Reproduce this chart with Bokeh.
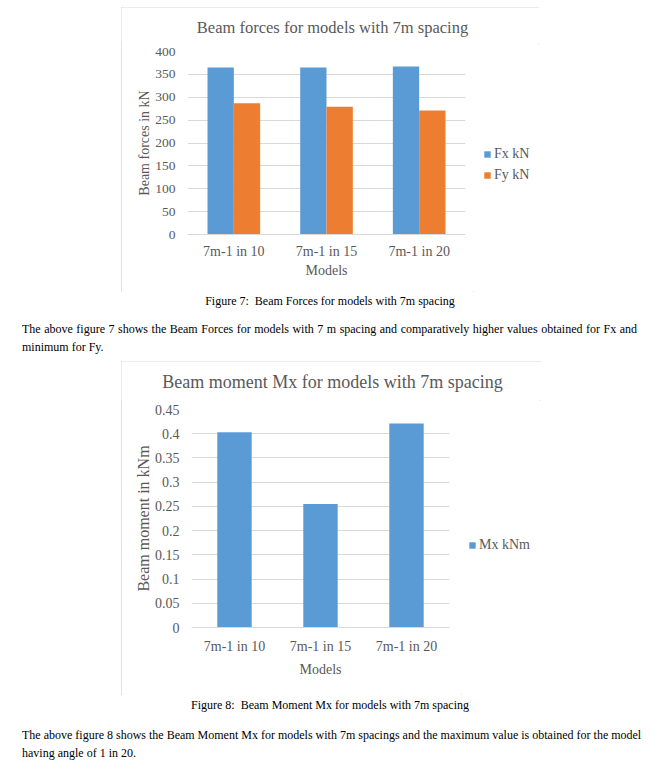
from bokeh.plotting import figure
from bokeh.models import (FactorRange, Range1d, FixedTicker, Legend, LegendItem, Label,
                          Div, Spacer, ColumnDataSource)
from bokeh.layouts import column, row
from bokeh.transform import dodge
from bokeh.embed import file_html
from bokeh.resources import INLINE

# ---------------- data ----------------
models = ["7m-1 in 10", "7m-1 in 15", "7m-1 in 20"]
fx_kn = [365, 365, 367]
fy_kn = [287, 279, 271]
force_ticks = [0, 50, 100, 150, 200, 250, 300, 350, 400]

mx_knm = [0.403, 0.255, 0.421]
moment_ticks = [0, 0.05, 0.1, 0.15, 0.2, 0.25, 0.3, 0.35, 0.4, 0.45]
moment_tick_labels = ["0", "0.05", "0.1", "0.15", "0.2", "0.25", "0.3", "0.35", "0.4", "0.45"]

title1 = "Beam forces for models with 7m spacing"
title2 = "Beam moment Mx for models with 7m spacing"
caption1 = "Figure 7:  Beam Forces for models with 7m spacing"
caption2 = "Figure 8:  Beam Moment Mx for models with 7m spacing"
para1 = ["The above figure 7 shows the Beam Forces for models with 7 m spacing and comparatively higher values obtained for Fx and",
         "minimum for Fy."]
para2 = ["The above figure 8 shows the Beam Moment Mx for models with 7m spacings and the maximum value is obtained for the model",
         "having angle of 1 in 20."]

# ---------------- style ----------------
GRAY = "#595959"
GRID = "#d9d9d9"
BLUE = "#5b9bd5"
ORANGE = "#ed7d31"
FONT = "Liberation Serif"
BOX = {"outline": "1px solid #d9d9d9", "outline-offset": "-1px"}
Z = (0, 0, 0, 0)


def blank_fig(width, height, x_range=None, y_range=None):
    f = figure(width=width, height=height,
               x_range=x_range if x_range is not None else Range1d(0, 1),
               y_range=y_range if y_range is not None else Range1d(0, 1),
               output_backend="svg", toolbar_location=None, tools="",
               x_axis_location=None, y_axis_location=None,
               min_border=0, min_border_left=0, min_border_right=0,
               min_border_top=0, min_border_bottom=0)
    f.grid.visible = False
    f.outline_line_color = None
    f.background_fill_color = "white"
    f.border_fill_color = "white"
    return f


def title_fig(width, height, text, size, x, y):
    f = blank_fig(width, height)
    f.add_layout(Label(x=x, y=y, x_units="screen", y_units="screen", text=text,
                       text_align="center", text_baseline="middle", text_font=FONT,
                       text_font_size=size, text_color=GRAY))
    return f


def style_main(p, ylabel, ylabel_size, yticks, ylab_standoff, x_standoff, xlab_standoff):
    p.outline_line_color = None
    p.background_fill_color = "white"
    p.border_fill_color = "white"
    p.xgrid.grid_line_color = None
    p.ygrid.grid_line_color = GRID
    p.ygrid.grid_line_width = 1
    p.yaxis.ticker = FixedTicker(ticks=yticks)
    for ax in (p.xaxis[0], p.yaxis[0]):
        ax.major_tick_line_color = None
        ax.minor_tick_line_color = None
        ax.major_tick_out = 0
        ax.major_tick_in = 0
        ax.major_label_text_font = FONT
        ax.major_label_text_color = GRAY
        ax.axis_label_text_font = FONT
        ax.axis_label_text_color = GRAY
        ax.axis_label_text_font_style = "normal"
    p.yaxis.axis_line_color = None
    p.yaxis.major_label_text_font_size = "13.5px"
    p.yaxis.major_label_standoff = 12
    p.yaxis.axis_label = ylabel
    p.yaxis.axis_label_text_font_size = ylabel_size
    p.yaxis.axis_label_standoff = ylab_standoff
    p.xaxis.axis_line_color = GRID
    p.xaxis.major_label_text_font_size = "14px"
    p.xaxis.major_label_standoff = x_standoff
    p.xaxis.axis_label = "Models"
    p.xaxis.axis_label_text_font_size = "14px"
    p.xaxis.axis_label_standoff = xlab_standoff


def legend_fig(width, height, source, entries, loc):
    # legend swatches reuse the series source; zero-width bars outside the
    # y range keep the swatch renderers themselves invisible
    f = blank_fig(width, height, x_range=FactorRange(factors=models), y_range=Range1d(-2, -1))
    items = []
    for label, col, color in entries:
        r = f.vbar(x="model", top=col, width=0, source=source,
                   fill_color=color, line_color=None)
        items.append(LegendItem(label=label, renderers=[r]))
    f.add_layout(Legend(items=items, location=loc, orientation="vertical",
                        border_line_color=None, background_fill_alpha=0,
                        padding=0, margin=0, spacing=1, glyph_width=8, glyph_height=8,
                        label_height=20, label_standoff=3, label_text_font=FONT,
                        label_text_font_size="14px", label_text_color=GRAY))
    return f


# ---------------- chart 1 ----------------
src1 = ColumnDataSource(dict(model=models, fx=fx_kn, fy=fy_kn))
p1 = figure(width=352, height=249, x_range=FactorRange(factors=models),
            y_range=Range1d(0, 400), output_backend="svg", toolbar_location=None,
            tools="", min_border_left=66, min_border_right=8,
            min_border_top=8, min_border_bottom=58)
p1.vbar(x=dodge("model", -0.142, range=p1.x_range), top="fx", width=0.284,
        source=src1, fill_color=BLUE, line_color=None)
p1.vbar(x=dodge("model", 0.142, range=p1.x_range), top="fy", width=0.284,
        source=src1, fill_color=ORANGE, line_color=None)
style_main(p1, "Beam forces in kN", "14px", force_ticks, 0, 9, 1)
t1 = title_fig(418, 36, title1, "16.5px", 211, 16)
l1 = legend_fig(66, 249, src1, [("Fx kN", "fx", BLUE), ("Fy kN", "fy", ORANGE)], (10, 49))
box1 = column(t1, row(p1, l1, spacing=0), spacing=0, styles=BOX)

# ---------------- chart 2 ----------------
src2 = ColumnDataSource(dict(model=models, mx=mx_knm))
p2 = figure(width=340, height=295, x_range=FactorRange(factors=models),
            y_range=Range1d(0, 0.45), output_backend="svg", toolbar_location=None,
            tools="", min_border_left=70, min_border_right=12,
            min_border_top=9, min_border_bottom=68)
p2.vbar(x="model", top="mx", width=0.40, source=src2, fill_color=BLUE, line_color=None)
style_main(p2, "Beam moment in kNm", "16px", moment_ticks, 0, 11, 5)
p2.yaxis.major_label_overrides = dict(zip(moment_ticks, moment_tick_labels))
p2.yaxis.major_label_text_font_size = "14px"
t2 = title_fig(420, 39, title2, "18px", 211, 19)
l2 = legend_fig(80, 295, src2, [("Mx kNm", "mx", BLUE)], (7, 72))
box2 = column(t2, row(p2, l2, spacing=0), spacing=0, styles=BOX)

# ---------------- page text ----------------
TXT = "font-family:'Liberation Serif';font-size:12px;line-height:18px;color:#000;"


def caption(text):
    return Div(text=f'<div style="{TXT}text-align:center;white-space:pre;width:660px">{text}</div>',
               width=660, height=18, margin=Z)


def paragraph(lines):
    html = (f'<div style="{TXT}width:615px">'
            f'<div style="text-align:justify;text-align-last:justify;white-space:nowrap">{lines[0]}</div>'
            f'<div style="text-align:left">{lines[1]}</div></div>')
    return row(Spacer(width=22, height=36, margin=Z),
               Div(text=html, width=615, height=36, margin=Z), spacing=0)


page = column(
    Spacer(width=10, height=7, margin=Z),
    row(Spacer(width=121, height=285, margin=Z), box1, spacing=0),
    caption(caption1),
    Spacer(width=10, height=10, margin=Z),
    paragraph(para1),
    Spacer(width=10, height=5, margin=Z),
    row(Spacer(width=121, height=334, margin=Z), box2, spacing=0),
    Spacer(width=10, height=1, margin=Z),
    caption(caption2),
    Spacer(width=10, height=12, margin=Z),
    paragraph(para2),
    spacing=0,
)

open("out.html", "w").write(file_html(page, INLINE))
